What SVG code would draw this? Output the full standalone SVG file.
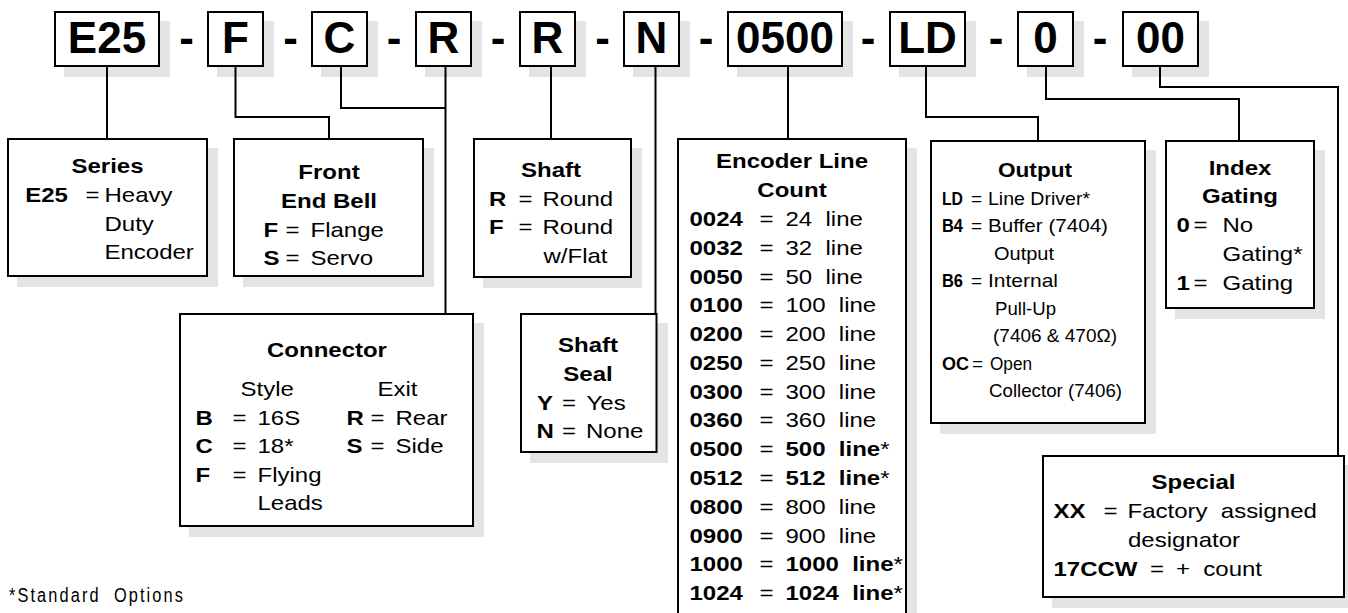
<svg xmlns="http://www.w3.org/2000/svg" width="1348" height="613" viewBox="0 0 1348 613">
<style>
.t{font-family:"Liberation Sans",Arial,sans-serif;font-size:20px;fill:#000}
.o{font-family:"Liberation Sans",Arial,sans-serif;font-size:19px;fill:#000}
.b{font-weight:bold}
.m{text-anchor:middle}
.code{font-family:"Liberation Sans",Arial,sans-serif;font-size:44px;font-weight:bold;text-anchor:middle;fill:#000}
.box{fill:#fff;stroke:#000;stroke-width:2}
.sh{fill:#e4e4e4}
.n{font-weight:normal}
#connectors path{fill:none;stroke:#000;stroke-width:2}
</style>
<rect width="1348" height="613" fill="#fff"/>

<!-- top code boxes -->
<g id="code-e25"><rect class="sh" x="64" y="21" width="106" height="56"/><rect class="box" x="55" y="12" width="104" height="54"/><text class="code" x="107" y="53">E25</text></g>
<g id="code-f"><rect class="sh" x="217" y="21" width="57" height="56"/><rect class="box" x="208" y="12" width="55" height="54"/><text class="code" x="235.5" y="53">F</text></g>
<g id="code-c"><rect class="sh" x="321" y="21" width="57" height="56"/><rect class="box" x="312" y="12" width="55" height="54"/><text class="code" x="339.5" y="53">C</text></g>
<g id="code-r1"><rect class="sh" x="425" y="21" width="57" height="56"/><rect class="box" x="416" y="12" width="55" height="54"/><text class="code" x="443.5" y="53">R</text></g>
<g id="code-r2"><rect class="sh" x="529" y="21" width="57" height="56"/><rect class="box" x="520" y="12" width="55" height="54"/><text class="code" x="547.5" y="53">R</text></g>
<g id="code-n"><rect class="sh" x="633" y="21" width="57" height="56"/><rect class="box" x="624" y="12" width="55" height="54"/><text class="code" x="651.5" y="53">N</text></g>
<g id="code-0500"><rect class="sh" x="737" y="21" width="116" height="56"/><rect class="box" x="728" y="12" width="114" height="54"/><text class="code" x="785" y="53">0500</text></g>
<g id="code-ld"><rect class="sh" x="899" y="21" width="77" height="56"/><rect class="box" x="890" y="12" width="75" height="54"/><text class="code" x="927.5" y="53">LD</text></g>
<g id="code-0"><rect class="sh" x="1027" y="21" width="57" height="56"/><rect class="box" x="1018" y="12" width="55" height="54"/><text class="code" x="1045.5" y="53">0</text></g>
<g id="code-00"><rect class="sh" x="1132" y="21" width="77" height="56"/><rect class="box" x="1123" y="12" width="75" height="54"/><text class="code" x="1160.5" y="53">00</text></g>

<g id="dashes">
<text class="code" x="186.5" y="53">-</text>
<text class="code" x="290.5" y="53">-</text>
<text class="code" x="394" y="53">-</text>
<text class="code" x="498" y="53">-</text>
<text class="code" x="602.5" y="53">-</text>
<text class="code" x="706" y="53">-</text>
<text class="code" x="868" y="53">-</text>
<text class="code" x="996" y="53">-</text>
<text class="code" x="1100" y="53">-</text>
</g>

<g id="connectors">
<path d="M107 67V139"/>
<path d="M235.5 67V117H329V139"/>
<path d="M341 67V108H446"/>
<path d="M445.5 67V314"/>
<path d="M551 67V139"/>
<path d="M655.5 67V314"/>
<path d="M788 67V139"/>
<path d="M926 67V117H1038V141"/>
<path d="M1046 67V99H1239V141"/>
<path d="M1160 67V87H1338V456"/>
</g>

<g id="series">
<rect class="sh" x="17" y="148" width="201" height="139"/>
<rect class="box" x="8" y="139" width="199" height="137"/>
<text class="t b m" transform="translate(107.5 173) scale(1.2 1)">Series</text>
<text class="t b" transform="translate(25.2 201.5) scale(1.2 1)">E25</text>
<text class="t" transform="translate(85.5 201.5) scale(1.2 1)">=</text>
<text class="t" transform="translate(104.5 201.5) scale(1.2 1)">Heavy</text>
<text class="t" transform="translate(104.5 230.5) scale(1.2 1)">Duty</text>
<text class="t" transform="translate(104.5 259) scale(1.2 1)">Encoder</text>
</g>

<g id="front-end-bell">
<rect class="sh" x="243" y="148" width="191" height="139"/>
<rect class="box" x="234" y="139" width="189" height="137"/>
<text class="t b m" transform="translate(329 179) scale(1.2 1)">Front</text>
<text class="t b m" transform="translate(329 208) scale(1.2 1)">End Bell</text>
<text class="t b" transform="translate(263.5 236.5) scale(1.2 1)">F</text>
<text class="t" transform="translate(285.5 236.5) scale(1.2 1)">=</text>
<text class="t" transform="translate(310.5 236.5) scale(1.2 1)">Flange</text>
<text class="t b" transform="translate(263.5 265) scale(1.2 1)">S</text>
<text class="t" transform="translate(285.5 265) scale(1.2 1)">=</text>
<text class="t" transform="translate(310.5 265) scale(1.2 1)">Servo</text>
</g>

<g id="shaft">
<rect class="sh" x="483" y="148" width="159" height="140"/>
<rect class="box" x="474" y="139" width="157" height="138"/>
<text class="t b m" transform="translate(551 176.5) scale(1.2 1)">Shaft</text>
<text class="t b" transform="translate(489 206) scale(1.2 1)">R</text>
<text class="t" transform="translate(518.5 206) scale(1.2 1)">=</text>
<text class="t" transform="translate(542.5 206) scale(1.2 1)">Round</text>
<text class="t b" transform="translate(489 234.3) scale(1.2 1)">F</text>
<text class="t" transform="translate(518.5 234.3) scale(1.2 1)">=</text>
<text class="t" transform="translate(542.5 234.3) scale(1.2 1)">Round</text>
<text class="t" transform="translate(543.5 262.7) scale(1.2 1)">w/Flat</text>
</g>

<g id="encoder-line-count">
<rect class="sh" x="687" y="148" width="230" height="522"/>
<rect class="box" x="678" y="139" width="228" height="520"/>
<text class="t b m" transform="translate(792 168) scale(1.2 1)">Encoder Line</text>
<text class="t b m" transform="translate(792 196.7) scale(1.2 1)">Count</text>
<g class="t">
<text class="b" transform="translate(689.5 226) scale(1.2 1)">0024</text><text transform="translate(759.5 226) scale(1.2 1)">=</text><text transform="translate(785.5 226) scale(1.2 1)">24&#160;&#160;line</text>
<text class="b" transform="translate(689.5 254.8) scale(1.2 1)">0032</text><text transform="translate(759.5 254.8) scale(1.2 1)">=</text><text transform="translate(785.5 254.8) scale(1.2 1)">32&#160;&#160;line</text>
<text class="b" transform="translate(689.5 283.5) scale(1.2 1)">0050</text><text transform="translate(759.5 283.5) scale(1.2 1)">=</text><text transform="translate(785.5 283.5) scale(1.2 1)">50&#160;&#160;line</text>
<text class="b" transform="translate(689.5 312.3) scale(1.2 1)">0100</text><text transform="translate(759.5 312.3) scale(1.2 1)">=</text><text transform="translate(785.5 312.3) scale(1.2 1)">100&#160;&#160;line</text>
<text class="b" transform="translate(689.5 341.1) scale(1.2 1)">0200</text><text transform="translate(759.5 341.1) scale(1.2 1)">=</text><text transform="translate(785.5 341.1) scale(1.2 1)">200&#160;&#160;line</text>
<text class="b" transform="translate(689.5 369.9) scale(1.2 1)">0250</text><text transform="translate(759.5 369.9) scale(1.2 1)">=</text><text transform="translate(785.5 369.9) scale(1.2 1)">250&#160;&#160;line</text>
<text class="b" transform="translate(689.5 398.6) scale(1.2 1)">0300</text><text transform="translate(759.5 398.6) scale(1.2 1)">=</text><text transform="translate(785.5 398.6) scale(1.2 1)">300&#160;&#160;line</text>
<text class="b" transform="translate(689.5 427.4) scale(1.2 1)">0360</text><text transform="translate(759.5 427.4) scale(1.2 1)">=</text><text transform="translate(785.5 427.4) scale(1.2 1)">360&#160;&#160;line</text>
<text class="b" transform="translate(689.5 456.2) scale(1.2 1)">0500</text><text transform="translate(759.5 456.2) scale(1.2 1)">=</text><text class="b" transform="translate(785.5 456.2) scale(1.2 1)">500&#160;&#160;line<tspan class="n">*</tspan></text>
<text class="b" transform="translate(689.5 484.9) scale(1.2 1)">0512</text><text transform="translate(759.5 484.9) scale(1.2 1)">=</text><text class="b" transform="translate(785.5 484.9) scale(1.2 1)">512&#160;&#160;line<tspan class="n">*</tspan></text>
<text class="b" transform="translate(689.5 513.7) scale(1.2 1)">0800</text><text transform="translate(759.5 513.7) scale(1.2 1)">=</text><text transform="translate(785.5 513.7) scale(1.2 1)">800&#160;&#160;line</text>
<text class="b" transform="translate(689.5 542.5) scale(1.2 1)">0900</text><text transform="translate(759.5 542.5) scale(1.2 1)">=</text><text transform="translate(785.5 542.5) scale(1.2 1)">900&#160;&#160;line</text>
<text class="b" transform="translate(689.5 571.2) scale(1.2 1)">1000</text><text transform="translate(759.5 571.2) scale(1.2 1)">=</text><text class="b" transform="translate(785.5 571.2) scale(1.2 1)">1000&#160;&#160;line<tspan class="n">*</tspan></text>
<text class="b" transform="translate(689.5 600) scale(1.2 1)">1024</text><text transform="translate(759.5 600) scale(1.2 1)">=</text><text class="b" transform="translate(785.5 600) scale(1.2 1)">1024&#160;&#160;line<tspan class="n">*</tspan></text>
</g>
</g>

<g id="output">
<rect class="sh" x="940" y="150" width="216" height="284"/>
<rect class="box" x="931" y="141" width="214" height="282"/>
<text class="t b m" x="1035" y="177" textLength="74" lengthAdjust="spacingAndGlyphs">Output</text>
<text class="o b" x="942" y="204.5" textLength="21" lengthAdjust="spacingAndGlyphs">LD</text>
<text class="o" x="971" y="204.5">=</text>
<text class="o" x="988" y="204.5" textLength="102" lengthAdjust="spacingAndGlyphs">Line Driver*</text>
<text class="o b" x="942" y="232" textLength="21" lengthAdjust="spacingAndGlyphs">B4</text>
<text class="o" x="971" y="232">=</text>
<text class="o" x="988" y="232" textLength="120" lengthAdjust="spacingAndGlyphs">Buffer (7404)</text>
<text class="o" x="994" y="259.5" textLength="60" lengthAdjust="spacingAndGlyphs">Output</text>
<text class="o b" x="942" y="287" textLength="21" lengthAdjust="spacingAndGlyphs">B6</text>
<text class="o" x="971" y="287">=</text>
<text class="o" x="988" y="287" textLength="70" lengthAdjust="spacingAndGlyphs">Internal</text>
<text class="o" x="995" y="314.5" textLength="61" lengthAdjust="spacingAndGlyphs">Pull-Up</text>
<text class="o" x="993" y="342" textLength="124" lengthAdjust="spacingAndGlyphs">(7406 &amp; 470Ω)</text>
<text class="o b" x="942" y="369.5" textLength="27" lengthAdjust="spacingAndGlyphs">OC</text>
<text class="o" x="972" y="369.5" textLength="11" lengthAdjust="spacingAndGlyphs">=</text>
<text class="o" x="990" y="369.5" textLength="42" lengthAdjust="spacingAndGlyphs">Open</text>
<text class="o" x="989" y="397" textLength="133" lengthAdjust="spacingAndGlyphs">Collector (7406)</text>
</g>

<g id="index-gating">
<rect class="sh" x="1175" y="150" width="150" height="169"/>
<rect class="box" x="1166" y="141" width="148" height="167"/>
<text class="t b m" transform="translate(1240 174.5) scale(1.2 1)">Index</text>
<text class="t b m" transform="translate(1240 203) scale(1.2 1)">Gating</text>
<text class="t b" transform="translate(1176.5 232) scale(1.2 1)">0</text>
<text class="t" transform="translate(1193.5 232) scale(1.2 1)">=</text>
<text class="t" transform="translate(1222.5 232) scale(1.2 1)">No</text>
<text class="t" transform="translate(1222.5 260.5) scale(1.2 1)">Gating*</text>
<text class="t b" transform="translate(1176.5 289.5) scale(1.2 1)">1</text>
<text class="t" transform="translate(1193.5 289.5) scale(1.2 1)">=</text>
<text class="t" transform="translate(1222.5 289.5) scale(1.2 1)">Gating</text>
</g>

<g id="connector">
<rect class="sh" x="189" y="323" width="295" height="214"/>
<rect class="box" x="180" y="314" width="293" height="212"/>
<text class="t b m" transform="translate(327 357) scale(1.2 1)">Connector</text>
<text class="t" transform="translate(240.5 396) scale(1.2 1)">Style</text>
<text class="t" transform="translate(377.5 396) scale(1.2 1)">Exit</text>
<text class="t b" transform="translate(195.5 424.5) scale(1.2 1)">B</text>
<text class="t" transform="translate(232.5 424.5) scale(1.2 1)">=</text>
<text class="t" transform="translate(257.5 424.5) scale(1.2 1)">16S</text>
<text class="t b" transform="translate(346.5 424.5) scale(1.2 1)">R</text>
<text class="t" transform="translate(370.5 424.5) scale(1.2 1)">=</text>
<text class="t" transform="translate(395.5 424.5) scale(1.2 1)">Rear</text>
<text class="t b" transform="translate(195.5 453) scale(1.2 1)">C</text>
<text class="t" transform="translate(232.5 453) scale(1.2 1)">=</text>
<text class="t" transform="translate(257.5 453) scale(1.2 1)">18*</text>
<text class="t b" transform="translate(346.5 453) scale(1.2 1)">S</text>
<text class="t" transform="translate(370.5 453) scale(1.2 1)">=</text>
<text class="t" transform="translate(395.5 453) scale(1.2 1)">Side</text>
<text class="t b" transform="translate(195.5 481.5) scale(1.2 1)">F</text>
<text class="t" transform="translate(232.5 481.5) scale(1.2 1)">=</text>
<text class="t" transform="translate(257.5 481.5) scale(1.2 1)">Flying</text>
<text class="t" transform="translate(257.5 510) scale(1.2 1)">Leads</text>
</g>

<g id="shaft-seal">
<rect class="sh" x="530" y="323" width="138" height="140"/>
<rect class="box" x="521" y="314" width="135.5" height="138"/>
<text class="t b m" transform="translate(588 352) scale(1.2 1)">Shaft</text>
<text class="t b m" transform="translate(588 380.5) scale(1.2 1)">Seal</text>
<text class="t b" transform="translate(537 409.5) scale(1.2 1)">Y</text>
<text class="t" transform="translate(562 409.5) scale(1.2 1)">=</text>
<text class="t" transform="translate(586.5 409.5) scale(1.2 1)">Yes</text>
<text class="t b" transform="translate(536.5 437.5) scale(1.2 1)">N</text>
<text class="t" transform="translate(562 437.5) scale(1.2 1)">=</text>
<text class="t" transform="translate(586 437.5) scale(1.2 1)">None</text>
</g>

<g id="special">
<rect class="sh" x="1052" y="465" width="303" height="143"/>
<rect class="box" x="1043" y="456" width="301" height="141"/>
<text class="t b m" transform="translate(1193.5 489) scale(1.2 1)">Special</text>
<text class="t b" transform="translate(1053.5 518) scale(1.2 1)">XX</text>
<text class="t" transform="translate(1103.5 518) scale(1.2 1)">=</text>
<text class="t" transform="translate(1127.5 518) scale(1.2 1)">Factory&#160;&#160;assigned</text>
<text class="t" transform="translate(1128 547) scale(1.2 1)">designator</text>
<text class="t b" transform="translate(1053.5 576) scale(1.2 1)">17CCW</text>
<text class="t" transform="translate(1150 576) scale(1.2 1)">=</text>
<text class="t" transform="translate(1176 576) scale(1.2 1)">+&#160;&#160;count</text>
</g>

<g id="footnote">
<text transform="translate(9 602) scale(0.78 1)" font-family="'Liberation Sans',Arial,sans-serif" font-size="21" textLength="223" lengthAdjust="spacing">*Standard&#160;&#160;Options</text>
</g>
</svg>
